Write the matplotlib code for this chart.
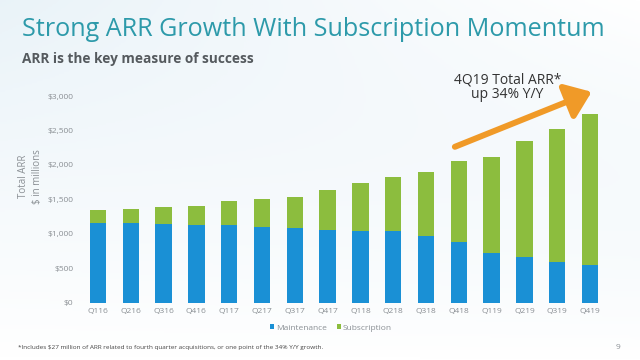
import numpy as np
import matplotlib
matplotlib.use("Agg")
import matplotlib.pyplot as plt
from matplotlib.patches import FancyArrowPatch
from matplotlib.colors import LinearSegmentedColormap

quarters = ["Q116", "Q216", "Q316", "Q416", "Q117", "Q217", "Q317", "Q417",
            "Q118", "Q218", "Q318", "Q418", "Q119", "Q219", "Q319", "Q419"]
total = [1345, 1364, 1384, 1408, 1471, 1509, 1534, 1631,
         1742, 1824, 1897, 2052, 2119, 2342, 2521, 2743]
maintenance = [1161, 1152, 1142, 1132, 1127, 1099, 1080, 1055,
               1045, 1040, 973, 877, 721, 663, 595, 543]
subscription = [t - m for t, m in zip(total, maintenance)]
yticks = [0, 500, 1000, 1500, 2000, 2500, 3000]
ytick_labels = ["$0", "$500", "$1,000", "$1,500", "$2,000", "$2,500", "$3,000"]

BLUE = "#1a90d5"
GREEN = "#8cbd3e"
ORANGE = "#f09a28"
TEAL = "#2d9aaa"
GRAY = "#8a8f94"

plt.rcParams['font.family'] = ['Open Sans', 'DejaVu Sans']

fig = plt.figure(figsize=(6.4, 3.6), dpi=100)

# soft background
bg = fig.add_axes([0, 0, 1, 1], zorder=-10)
yy, xx = np.mgrid[0:1:200j, 0:1:360j]
grad = np.clip(0.55 * (1 - xx) * (1 - yy) + 0.45 * yy * (1 - yy) * 2 * xx, 0, 1)
cmap = LinearSegmentedColormap.from_list("bg", ["#ffffff", "#d8e9f3"])
bg.imshow(grad, cmap=cmap, aspect="auto", extent=[0, 1, 0, 1], vmin=0, vmax=1)
bg.axis("off")

ax = fig.add_axes([0.1275, 0.159, 0.82, 0.574])
ax.set_facecolor("none")
x = np.arange(len(quarters))
ax.bar(x, maintenance, width=0.5, color=BLUE, label="Maintenance")
ax.bar(x, subscription, width=0.5, bottom=maintenance, color=GREEN, label="Subscription")
ax.set_xlim(-0.5, len(quarters) - 0.5)
ax.set_ylim(0, 3000)
ax.set_yticks(yticks)
ax.set_yticklabels(ytick_labels)
ax.set_xticks(x)
ax.set_xticklabels(quarters)
ax.tick_params(axis="both", length=0, labelsize=6, colors=GRAY, pad=6)
ax.tick_params(axis="x", pad=4)
for s in ax.spines.values():
    s.set_visible(False)

ax.set_ylabel("Total ARR\n$ in millions", fontsize=7, color=GRAY,
              linespacing=1.4)
ax.yaxis.set_label_coords(-0.073, 0.613)

# arrow
arr = FancyArrowPatch((10.88, 2264), (15.05, 3062), arrowstyle="-|>,head_length=6,head_width=4.5",
                      color=ORANGE, lw=4.3, mutation_scale=2.5, clip_on=False, shrinkA=0, shrinkB=0)
ax.add_patch(arr)

fig.text(0.793, 0.757, "4Q19 Total ARR*\nup 34% Y/Y", ha="center", va="center",
         fontsize=10, color="#333333", linespacing=1.0)

fig.text(0.034, 0.917, "Strong ARR Growth With Subscription Momentum", fontsize=18.1,
         color=TEAL, ha="left", va="center")
fig.text(0.034, 0.836, "ARR is the key measure of success", fontsize=9.8,
         color="#555a5e", fontweight="bold", ha="left", va="center")

leg = fig.legend(loc="center", bbox_to_anchor=(0.517, 0.089), ncol=2, frameon=False,
                 fontsize=6, handlelength=0.5, handleheight=0.5, handletextpad=0.2,
                 columnspacing=1.2, labelcolor=GRAY)

fig.text(0.028, 0.035, "*Includes $27 million of ARR related to fourth quarter acquisitions, or one point of the 34% Y/Y growth.",
         fontsize=4.6, color="#444444", ha="left", va="center")
fig.text(0.965, 0.035, "9", fontsize=6, color=GRAY, ha="center", va="center")

fig.savefig("out.png", dpi=100)
